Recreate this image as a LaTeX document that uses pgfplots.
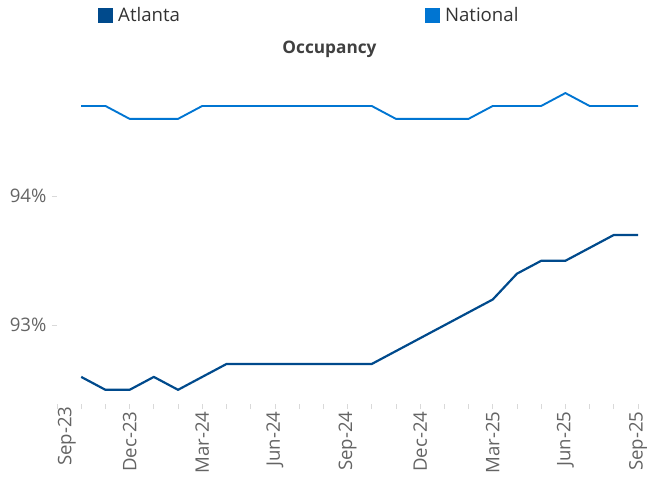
\documentclass[border=0pt]{standalone}
\usepackage{pgfplots}
\pgfplotsset{compat=1.18}
\usepackage{fontspec}
\setmainfont{Open Sans}
\definecolor{atl}{RGB}{0,74,140}
\definecolor{nat}{RGB}{0,117,210}
\definecolor{lbl}{RGB}{100,100,100}
\definecolor{ttl}{RGB}{64,64,64}
\definecolor{tck}{RGB}{217,217,217}
\begin{document}
\begin{tikzpicture}
\begin{axis}[
  name=ax,
  scale only axis,
  width=581bp, height=329bp,
  xmin=0, xmax=24,
  ymin=92.39, ymax=94.94,
  axis line style={draw=none},
  xtick={0,...,24},
  xticklabels={,,,Dec-23,,,Mar-24,,,Jun-24,,,Sep-24,,,Dec-24,,,Mar-25,,,Jun-25,,,Sep-25},
  extra x ticks={0.41},
  extra x tick labels={Sep-23},
  extra x tick style={major tick length=0pt, tick style={draw=none}},
  x tick label style={rotate=90, anchor=east, font=\fontsize{18.7}{21}\selectfont, text=lbl},
  xticklabel shift=-1bp,
  xtick pos=bottom, ytick pos=left,
  tick align=outside,
  major tick length=5bp,
  tick style={tck, line width=0.75pt},
  ytick={93,94},
  yticklabels={93\%,94\%},
  y tick label style={font=\fontsize{18.7}{21}\selectfont, text=lbl},
  yticklabel shift=2bp,
  title={Occupancy},
  title style={at={(axis description cs:0.469,1.061)}, anchor=center, font=\bfseries\fontsize{17.3}{20}\selectfont, text=ttl},
  legend columns=2,
  legend style={at={(axis description cs:0.0706,1.181)}, anchor=west, draw=none, fill=none, inner sep=0pt,
    font=\fontsize{18.7}{21}\selectfont, text=black!80,
    nodes={inner xsep=5bp, inner ysep=0pt},
    /tikz/every even column/.append style={column sep=240bp}},
  legend image code/.code={\fill[#1, draw=none] (0bp,-7.5bp) rectangle (15bp,7.5bp);},
  clip=false,
]
\addplot[atl, line width=2.2pt, line join=round] coordinates {
(1,92.6) (2,92.5) (3,92.5) (4,92.6) (5,92.5) (6,92.6) (7,92.7) (8,92.7) (9,92.7) (10,92.7)
(11,92.7) (12,92.7) (13,92.7) (14,92.8) (15,92.9) (16,93.0) (17,93.1) (18,93.2) (19,93.4)
(20,93.5) (21,93.5) (22,93.6) (23,93.7) (24,93.7)};
\addlegendentry{Atlanta}
\addplot[nat, line width=1.9pt, line join=round] coordinates {
(1,94.7) (2,94.7) (3,94.6) (4,94.6) (5,94.6) (6,94.7) (7,94.7) (8,94.7) (9,94.7) (10,94.7)
(11,94.7) (12,94.7) (13,94.7) (14,94.6) (15,94.6) (16,94.6) (17,94.6) (18,94.7) (19,94.7)
(20,94.7) (21,94.8) (22,94.7) (23,94.7) (24,94.7)};
\addlegendentry{National}
\end{axis}
\pgfresetboundingbox
\useasboundingbox ([xshift=-57bp,yshift=-76bp]ax.south west) rectangle ([xshift=9bp,yshift=75bp]ax.north east);
\end{tikzpicture}
\end{document}
